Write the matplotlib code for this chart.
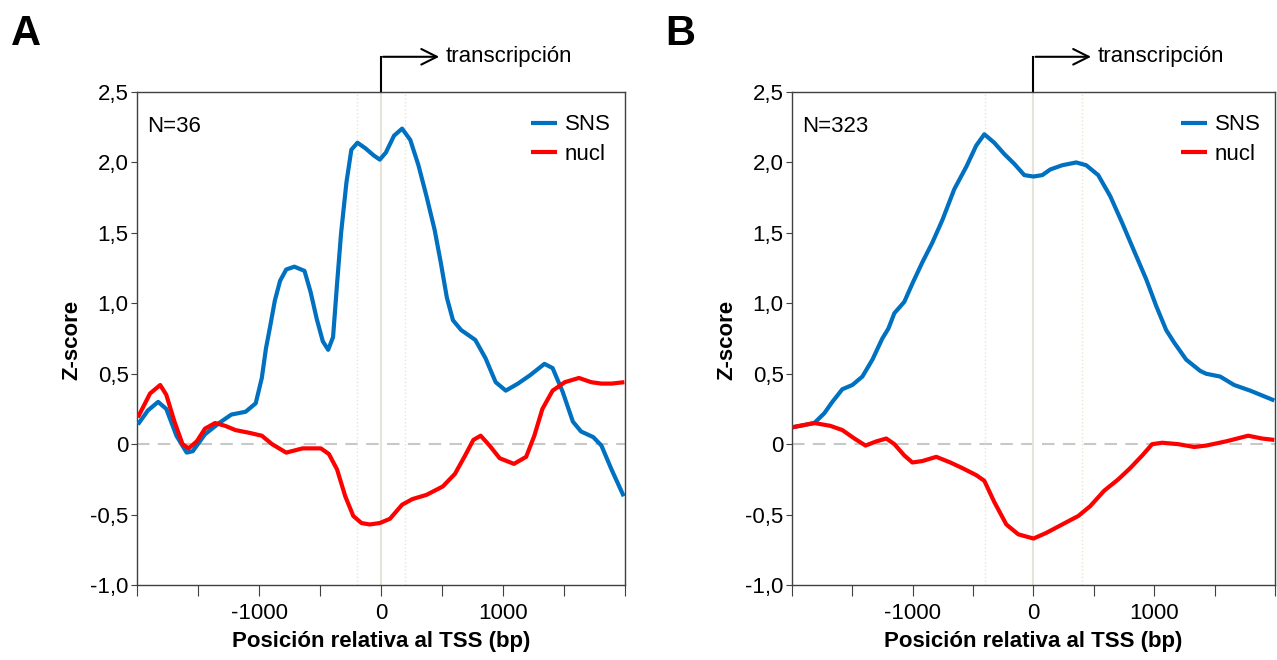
import numpy as np
import matplotlib
matplotlib.use("Agg")
import matplotlib.pyplot as plt

plt.rcParams['font.family'] = ['Liberation Sans', 'DejaVu Sans']

# ---- panel A (N=36) ----
a_sns_x = [-1993, -1910, -1827, -1760, -1677, -1593, -1543, -1443, -1327, -1227, -1110, -1027,
           -977, -943, -910, -870, -827, -777, -710, -627, -577, -527, -477, -433, -393, -360,
           -327, -283, -243, -193, -127, -60, -10, 40, 107, 173, 240, 307, 373, 440, 490, 540,
           590, 657, 773, 857, 940, 1023, 1123, 1223, 1340, 1407, 1490, 1573, 1640, 1740, 1807,
           1890, 1990]
a_sns_y = [0.14, 0.24, 0.30, 0.25, 0.06, -0.06, -0.05, 0.07, 0.15, 0.21, 0.23, 0.29,
           0.47, 0.68, 0.83, 1.02, 1.16, 1.24, 1.26, 1.23, 1.08, 0.89, 0.73, 0.67, 0.76, 1.14,
           1.50, 1.86, 2.09, 2.14, 2.10, 2.05, 2.02, 2.07, 2.19, 2.24, 2.16, 1.98, 1.76, 1.52, 1.29, 1.04,
           0.88, 0.81, 0.74, 0.61, 0.44, 0.38, 0.43, 0.49, 0.57, 0.54, 0.37, 0.16, 0.09, 0.05, -0.01,
           -0.18, -0.37]
a_nucl_x = [-1993, -1893, -1810, -1760, -1693, -1627, -1577, -1510, -1443, -1360, -1277, -1193,
            -1077, -977, -893, -777, -643, -493, -427, -360, -293, -227, -160, -93, -10, 73, 173,
            257, 373, 507, 607, 690, 757, 817, 890, 973, 1090, 1190, 1257, 1323, 1407, 1507, 1623,
            1723, 1807, 1890, 1995]
a_nucl_y = [0.19, 0.36, 0.42, 0.35, 0.16, 0.0, -0.03, 0.02, 0.11, 0.15, 0.13, 0.10,
            0.08, 0.06, 0.0, -0.06, -0.03, -0.03, -0.07, -0.18, -0.37, -0.51, -0.56, -0.57, -0.56, -0.53, -0.43,
            -0.39, -0.36, -0.30, -0.21, -0.08, 0.03, 0.06, -0.01, -0.10, -0.14, -0.09, 0.06, 0.25, 0.38, 0.44, 0.47,
            0.44, 0.43, 0.43, 0.44]

# ---- panel B (N=323) ----
b_sns_x = [-1995, -1815, -1732, -1666, -1583, -1500, -1417, -1334, -1252, -1202, -1152, -1070,
           -1003, -921, -838, -755, -656, -556, -474, -407, -325, -242, -159, -76, 0, 73, 139,
           238, 354, 437, 536, 636, 735, 834, 934, 1017, 1099, 1166, 1265, 1381, 1430, 1546,
           1662, 1795, 1995]
b_sns_y = [0.12, 0.15, 0.22, 0.30, 0.39, 0.42, 0.48, 0.60, 0.75, 0.82, 0.93, 1.01,
           1.14, 1.29, 1.43, 1.59, 1.81, 1.97, 2.12, 2.20, 2.14, 2.06, 1.99, 1.91, 1.90, 1.91, 1.95,
           1.98, 2.00, 1.98, 1.91, 1.76, 1.57, 1.37, 1.17, 0.98, 0.81, 0.72, 0.60, 0.52, 0.50, 0.48,
           0.42, 0.38, 0.31]
b_nucl_x = [-1995, -1815, -1682, -1583, -1483, -1391, -1301, -1219, -1152, -1070, -1003, -921,
            -805, -689, -589, -474, -407, -325, -225, -126, 0, 106, 238, 371, 470, 586, 702, 801,
            901, 983, 1066, 1199, 1331, 1430, 1596, 1778, 1894, 1995]
b_nucl_y = [0.12, 0.15, 0.13, 0.10, 0.04, -0.01, 0.02, 0.04, 0.0, -0.08, -0.13, -0.12,
            -0.09, -0.13, -0.17, -0.22, -0.26, -0.41, -0.57, -0.64, -0.67, -0.63, -0.57, -0.51, -0.44, -0.33, -0.25, -0.17,
            -0.08, 0.0, 0.01, 0.0, -0.02, -0.01, 0.02, 0.06, 0.04, 0.03]

y_ticks = [-1.0, -0.5, 0, 0.5, 1.0, 1.5, 2.0, 2.5]
y_labels = ['-1,0', '-0,5', '0', '0,5', '1,0', '1,5', '2,0', '2,5']
x_ticks = [-2000, -1500, -1000, -500, 0, 500, 1000, 1500, 2000]
x_labels = ['', '', '-1000', '', '0', '', '1000', '', '']

panels = [
    ('A', 'N=36', a_sns_x, a_sns_y, a_nucl_x, a_nucl_y, 200, [0.1073, 0.1136, 0.3821, 0.747]),
    ('B', 'N=323', b_sns_x, b_sns_y, b_nucl_x, b_nucl_y, 400, [0.6202, 0.1136, 0.3782, 0.747]),
]

fig = plt.figure(figsize=(12.77, 6.6), dpi=100)
blue = '#0070C0'
red = '#FF0000'
grey = '#404040'

for letter, ntxt, sx, sy, nx, ny, dot, rect in panels:
    ax = fig.add_axes(rect)
    ax.set_xlim(-2000, 2000)
    ax.set_ylim(-1.0, 2.5)
    ax.axhline(0, color='#C8C8C8', lw=1.5, ls=(0, (6, 4)), zorder=1)
    ax.axvline(0, color='#E6E4D6', lw=1.5, zorder=1)
    for d in (-dot, dot):
        ax.axvline(d, color='#E8E6D0', lw=1.0, ls=':', zorder=1)
    ax.plot(sx, sy, color=blue, lw=3, label='SNS', zorder=3, solid_capstyle='butt')
    ax.plot(nx, ny, color=red, lw=3, label='nucl', zorder=3, solid_capstyle='butt')

    ax.set_yticks(y_ticks)
    ax.set_yticklabels(y_labels, fontsize=16)
    ax.set_xticks(x_ticks)
    ax.set_xticklabels(x_labels, fontsize=16)
    ax.tick_params(axis='y', length=4, color=grey, pad=2)
    ax.tick_params(axis='x', length=8, color=grey, pad=5)
    for s in ax.spines.values():
        s.set_color(grey)
        s.set_linewidth(1.0)

    ax.set_ylabel('Z-score', fontsize=16, fontweight='bold')
    ax.yaxis.set_label_coords(-0.113, 0.497)
    ax.set_xlabel('Posición relativa al TSS (bp)', fontsize=16, fontweight='bold')
    ax.xaxis.set_label_coords(0.5, -0.093)

    ax.text(0.02, 0.93, ntxt, transform=ax.transAxes, fontsize=16, va='center', ha='left')
    ax.legend(loc='upper right', bbox_to_anchor=(1.0, 0.984), frameon=False, fontsize=16,
              handlelength=1.15, handletextpad=0.35, labelspacing=0.4, borderaxespad=0.25)

    # transcription arrow
    ax.plot([0, 0], [2.5, 2.75], color='black', lw=1.5, clip_on=False)
    ax.annotate('', xy=(500, 2.75), xytext=(-6, 2.75), xycoords='data',
                arrowprops=dict(arrowstyle='->', color='black', lw=1.5, mutation_scale=28),
                annotation_clip=False)
    ax.text(530, 2.75, 'transcripción', fontsize=16, va='center', ha='left')

    fig.text(rect[0] - 0.099, 0.948, letter, fontsize=30, fontweight='bold', va='center', ha='left')

fig.savefig('out.png', dpi=100)
